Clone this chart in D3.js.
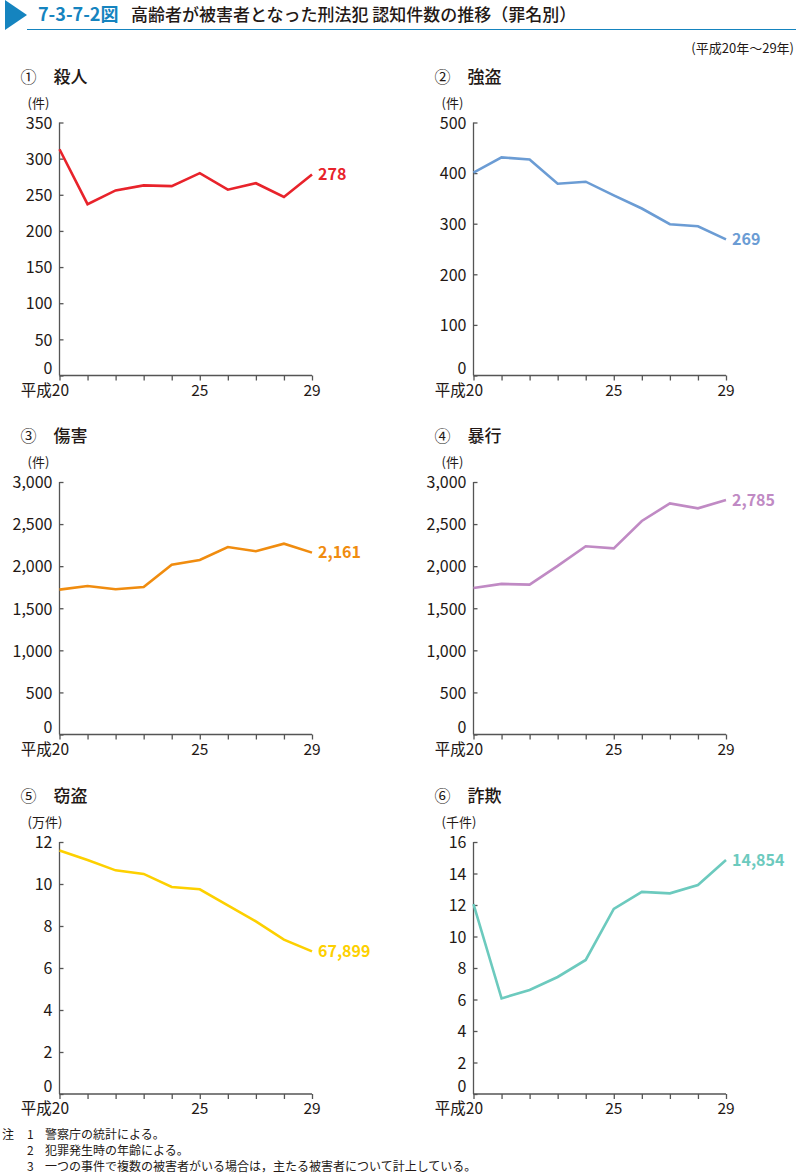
<!DOCTYPE html>
<html><head><meta charset="utf-8">
<script src="https://cdn.jsdelivr.net/npm/d3@7"></script>
<style>
body{margin:0;background:#fff;}
text{font-family:"Noto Sans CJK JP","Noto Sans",sans-serif;}
</style></head>
<body><svg id="c" width="796" height="1176"></svg>
<script>
const years = [20,21,22,23,24,25,26,27,28,29];
const xTickLabels = {20:"平成20",25:"25",29:"29"};

const satsujin = [313,237,256,263,262,280,257,266,247,278];
const goutou   = [401,431,427,379,383,356,330,299,295,269];
const shougai  = [1721,1765,1725,1753,2018,2074,2228,2177,2267,2161];
const boukou   = [1741,1789,1781,2003,2236,2212,2537,2746,2687,2785];
const settou   = [11.60,11.14,10.65,10.48,9.86,9.75,8.98,8.22,7.35,6.79]; // 万件
const sagi     = [12.06,6.07,6.60,7.43,8.51,11.75,12.83,12.74,13.27,14.854]; // 千件

const titles = ["殺人","強盗","傷害","暴行","窃盗","詐欺"];
const marks  = ["①","②","③","④","⑤","⑥"];
const units  = ["(件)","(件)","(件)","(件)","(万件)","(千件)"];
const endLabels = ["278","269","2,161","2,785","67,899","14,854"];
const yMax   = [350,500,3000,3000,12,16];
const yTicks = [[0,50,100,150,200,250,300,350],[0,100,200,300,400,500],
  [0,500,1000,1500,2000,2500,3000],[0,500,1000,1500,2000,2500,3000],
  [0,2,4,6,8,10,12],[0,2,4,6,8,10,12,14,16]];
const colors = ["#e8232b","#6b9cd4","#f08c0f","#c08ac4","#fdd000","#6ccabe"];
const series = [satsujin,goutou,shougai,boukou,settou,sagi];

const svg = d3.select("#c");
const fmt = d3.format(",");

// header
svg.append("path").attr("d","M5,0 L27,15 L5,30 Z").attr("fill","#1584bf");
svg.append("line").attr("x1",27).attr("x2",796).attr("y1",29.5).attr("y2",29.5)
  .attr("stroke","#1584bf").attr("stroke-width",1.2);
svg.append("text").attr("x",38).attr("y",21).attr("font-size",18).attr("font-weight",700)
  .attr("fill","#1584bf").text("7-3-7-2図");
svg.append("text").attr("x",131).attr("y",21).attr("font-size",17).attr("font-weight",500)
  .attr("fill","#231815").text("高齢者が被害者となった刑法犯 認知件数の推移（罪名別）");
svg.append("text").attr("x",794).attr("y",53).attr("font-size",13).attr("text-anchor","end")
  .attr("fill","#231815").text("(平成20年～29年)");

const colX = [59.5,473.5];
const rowY = [[122.5,375.5],[482,734.5],[842,1094]];
const plotW = 252.5;

series.forEach((vals,i)=>{
  const col = i%2, row = Math.floor(i/2);
  const x0 = colX[col], yTop = rowY[row][0], yBot = rowY[row][1];
  const g = svg.append("g");
  const x = d3.scaleLinear().domain([20,29]).range([x0,x0+plotW]);
  const y = d3.scaleLinear().domain([0,yMax[i]]).range([yBot,yTop]);

  // panel title
  g.append("text").attr("x",x0-31).attr("y",yTop-40).attr("font-size",16).attr("text-anchor","middle")
    .attr("fill","#231815").text(marks[i]);
  g.append("text").attr("x",x0-6).attr("y",yTop-40).attr("font-size",17).attr("font-weight",500)
    .attr("fill","#231815").text(titles[i]);
  // unit
  g.append("text").attr("x",x0-32).attr("y",yTop-15).attr("font-size",13)
    .attr("fill","#231815").text(units[i]);

  // y axis
  const ya = g.append("g").attr("transform",`translate(${x0},0)`)
    .call(d3.axisLeft(y).tickValues(yTicks[i]).tickSize(4).tickPadding(3).tickFormat(fmt));
  ya.select(".domain").attr("stroke","#555").attr("stroke-width",1.3).attr("d",`M0,${yTop}V${yBot}`);
  ya.selectAll(".tick line").attr("stroke","#555").attr("stroke-width",1.3).attr("x2",4);
  ya.selectAll(".tick text").attr("font-size",16).attr("fill","#231815")
    .attr("font-family","Lato,'Noto Sans',sans-serif").attr("dy",d=>d===0?"-0.14em":"0.36em");

  // x axis
  const xa = g.append("g").attr("transform",`translate(0,${yBot})`)
    .call(d3.axisBottom(x).tickValues(years).tickSize(5).tickFormat(""));
  xa.select(".domain").attr("stroke","#555").attr("stroke-width",1.3).attr("d",`M${x0},0H${x0+plotW}`);
  xa.selectAll(".tick line").attr("stroke","#555").attr("stroke-width",1.3);
  years.filter(v=>xTickLabels[v]).forEach(v=>{
    const t = g.append("text").attr("y",yBot+20).attr("font-size",15.5).attr("fill","#231815")
      .attr("font-family","Lato,'Noto Sans CJK JP',sans-serif");
    if(v===20){ t.attr("x",x(v)+9.5).attr("text-anchor","end").text(xTickLabels[v]); }
    else { t.attr("x",x(v)).attr("text-anchor","middle").text(xTickLabels[v]); }
  });

  // line
  const line = d3.line().x((d,k)=>x(years[k])).y(d=>y(d));
  g.append("path").datum(vals).attr("d",line).attr("fill","none")
    .attr("stroke",colors[i]).attr("stroke-width",2.6).attr("stroke-linejoin","miter");

  // end label
  const last = vals[vals.length-1];
  g.append("text").attr("x",x(29)+6).attr("y",y(last)).attr("dy","0.35em")
    .attr("font-size",16).attr("font-weight",700).attr("fill",colors[i])
    .attr("font-family","Lato,'Noto Sans',sans-serif").text(endLabels[i]);
});

// notes
const notes = [["注","1","警察庁の統計による。"],["","2","犯罪発生時の年齢による。"],
  ["","3","一つの事件で複数の被害者がいる場合は，主たる被害者について計上している。"]];
notes.forEach((n,k)=>{
  const yy = 1139 + k*16;
  svg.append("text").attr("x",2).attr("y",yy).attr("font-size",12).attr("fill","#231815").text(n[0]);
  svg.append("text").attr("x",27).attr("y",yy).attr("font-size",12).attr("fill","#231815").text(n[1]);
  svg.append("text").attr("x",45).attr("y",yy).attr("font-size",12).attr("fill","#231815").text(n[2]);
});
</script></body></html>
